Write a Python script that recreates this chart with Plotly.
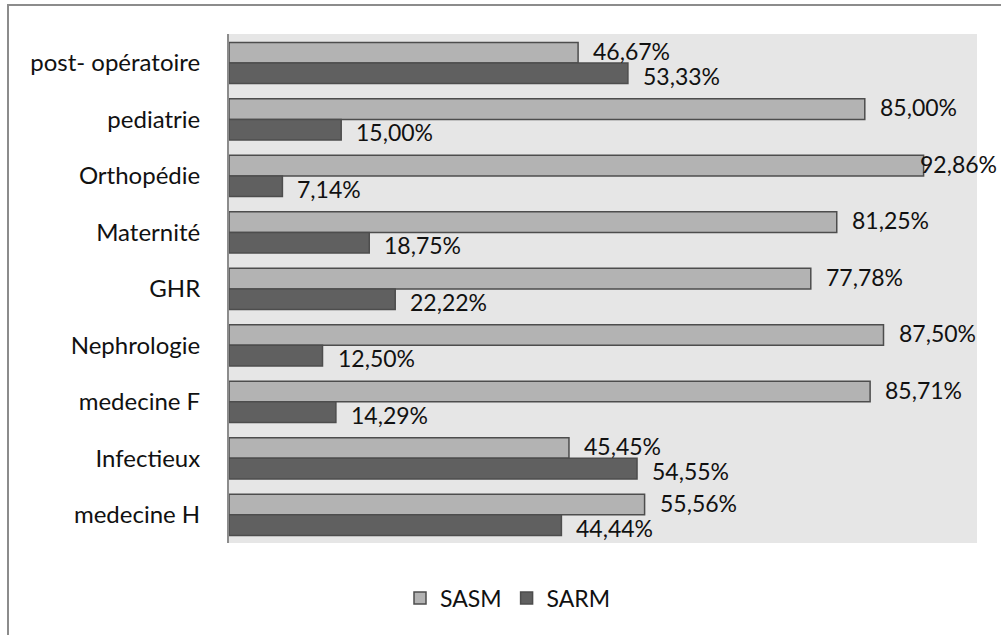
import plotly.graph_objects as go

# Services, listed top to bottom
services = ["post- opératoire", "pediatrie", "Orthopédie", "Maternité", "GHR",
            "Nephrologie", "medecine F", "Infectieux", "medecine H"]
sasm = [46.67, 85.00, 92.86, 81.25, 77.78, 87.50, 85.71, 45.45, 55.56]
sarm = [53.33, 15.00, 7.14, 18.75, 22.22, 12.50, 14.29, 54.55, 44.44]

FONT = "Lato, 'Open Sans', sans-serif"
W, H = 1001, 635
L, R, T, B = 229, 24, 34, 92


def pct(v):
    return f"{v:.2f}%".replace(".", ",")


fig = go.Figure()
fig.add_trace(go.Bar(
    name="SASM", y=services, x=sasm, orientation="h",
    marker=dict(color="#b3b3b3", line=dict(color="#4d4d4d", width=1.5)),
    hoverinfo="skip",
))
fig.add_trace(go.Bar(
    name="SARM", y=services, x=sarm, orientation="h",
    marker=dict(color="#606060", line=dict(color="#4d4d4d", width=1.5)),
    hoverinfo="skip",
))


def label_shift(v):
    # labels near the right edge are pulled back onto the bar end
    return -6 if v > 90 else 13


annotations = []
for s, v in zip(services, sasm):
    annotations.append(dict(x=v, y=s, xref="x", yref="y", text=pct(v),
                            showarrow=False, xanchor="left", yanchor="middle",
                            xshift=label_shift(v), yshift=12,
                            font=dict(family=FONT, size=23, color="#111111")))
for s, v in zip(services, sarm):
    annotations.append(dict(x=v, y=s, xref="x", yref="y", text=pct(v),
                            showarrow=False, xanchor="left", yanchor="middle",
                            xshift=label_shift(v), yshift=-13,
                            font=dict(family=FONT, size=23, color="#111111")))

pw = W - L - R
ph = H - T - B
fig.update_layout(
    width=W, height=H,
    margin=dict(l=L, r=R, t=T, b=B, pad=0),
    paper_bgcolor="white",
    plot_bgcolor="#e6e6e6",
    barmode="group",
    bargap=0.27,
    bargroupgap=0,
    font=dict(family=FONT, size=23, color="#111111"),
    showlegend=True,
    legend=dict(orientation="h", x=(508 - L) / pw, y=-(598 - (H - B)) / ph,
                xanchor="center", yanchor="middle",
                font=dict(family=FONT, size=23, color="#111111"),
                bgcolor="rgba(0,0,0,0)", itemwidth=30),
    annotations=annotations,
    shapes=[dict(type="rect", xref="paper", yref="paper",
                 x0=(8 - L) / pw, x1=1.2,
                 y0=-0.4, y1=1 + (T - 5) / ph,
                 line=dict(color="#8c8c8c", width=2), layer="below")],
)
fig.update_xaxes(range=[0, 100], showgrid=False, zeroline=False,
                 showticklabels=False, ticks="", showline=False, fixedrange=True)
fig.update_yaxes(autorange="reversed", showgrid=False, zeroline=False,
                 ticks="", showline=True, linecolor="#8c8c8c", linewidth=2,
                 ticklabelstandoff=22,
                 tickfont=dict(family=FONT, size=24, color="#111111"),
                 fixedrange=True)

fig.write_html("out.html")
